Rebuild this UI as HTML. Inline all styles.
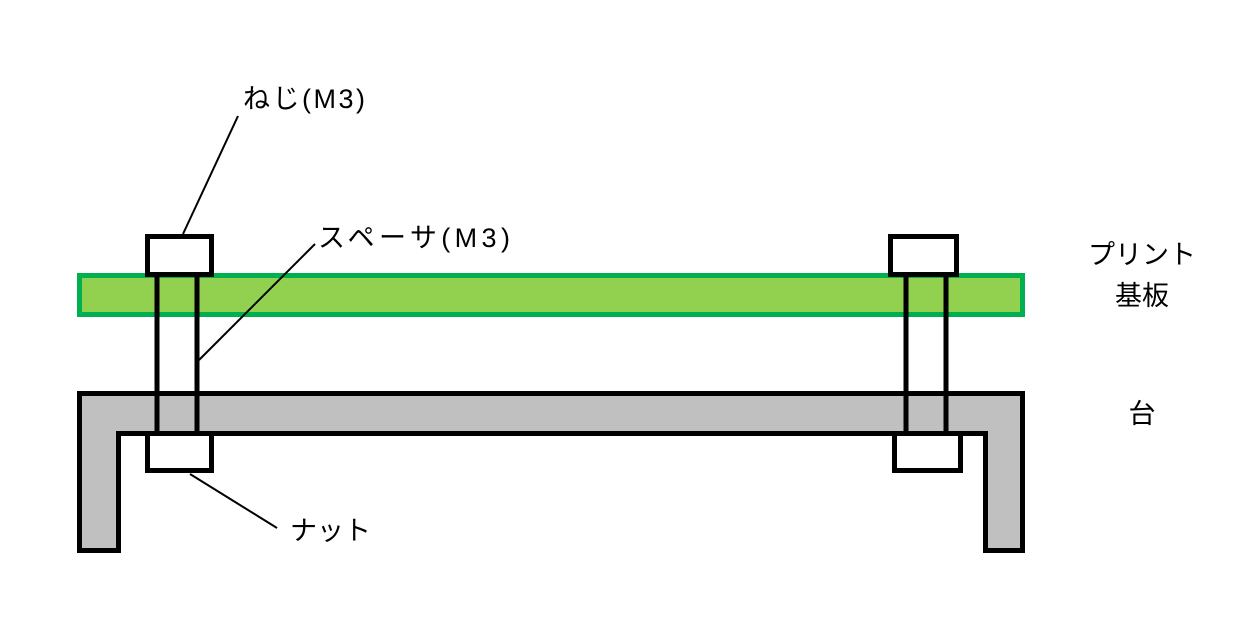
<!DOCTYPE html>
<html><head><meta charset="utf-8"><style>
html,body{margin:0;padding:0;background:#fff;}
svg text{font-family:"Liberation Sans","Noto Sans CJK JP",sans-serif;font-size:27px;fill:#000;}
</style></head><body>
<svg width="1260" height="629" viewBox="0 0 1260 629" xmlns="http://www.w3.org/2000/svg">
<rect width="1260" height="629" fill="#fff"/>
<rect x="79.5" y="275.5" width="943" height="39" fill="#92d050" stroke="#00b050" stroke-width="5"/>
<path d="M79.5 393.5 H1022.5 V550.5 H985.5 V433.5 H118.5 V550.5 H79.5 Z" fill="#c0c0c0" stroke="#000" stroke-width="5" stroke-linejoin="miter"/>
<g stroke="#000" stroke-width="5">
<line x1="157" y1="274" x2="157" y2="433"/>
<line x1="197" y1="274" x2="197" y2="433"/>
<line x1="906" y1="274" x2="906" y2="433"/>
<line x1="946" y1="274" x2="946" y2="433"/>
</g>
<rect x="147.5" y="236.5" width="64" height="38" fill="#fff" stroke="#000" stroke-width="5"/>
<rect x="890.5" y="236.5" width="66" height="38" fill="#fff" stroke="#000" stroke-width="5"/>
<rect x="147.5" y="433.5" width="64" height="37" fill="#fff" stroke="#000" stroke-width="5"/>
<rect x="894.5" y="433.5" width="66" height="37" fill="#fff" stroke="#000" stroke-width="5"/>
<g stroke="#000" stroke-width="2">
<line x1="183" y1="234" x2="238" y2="116"/>
<line x1="199" y1="360" x2="315" y2="244"/>
<line x1="190" y1="474" x2="277" y2="528"/>
</g>
<text x="243" y="108" font-size="28" textLength="122" lengthAdjust="spacing">ねじ(M3)</text>
<text x="318" y="247" font-size="28" textLength="192" lengthAdjust="spacing">スペーサ(M3)</text>
<text x="290" y="540">ナット</text>
<text x="1142" y="264" text-anchor="middle">プリント</text>
<text x="1142" y="305" text-anchor="middle">基板</text>
<text x="1142" y="423" text-anchor="middle">台</text>
</svg>
</body></html>
